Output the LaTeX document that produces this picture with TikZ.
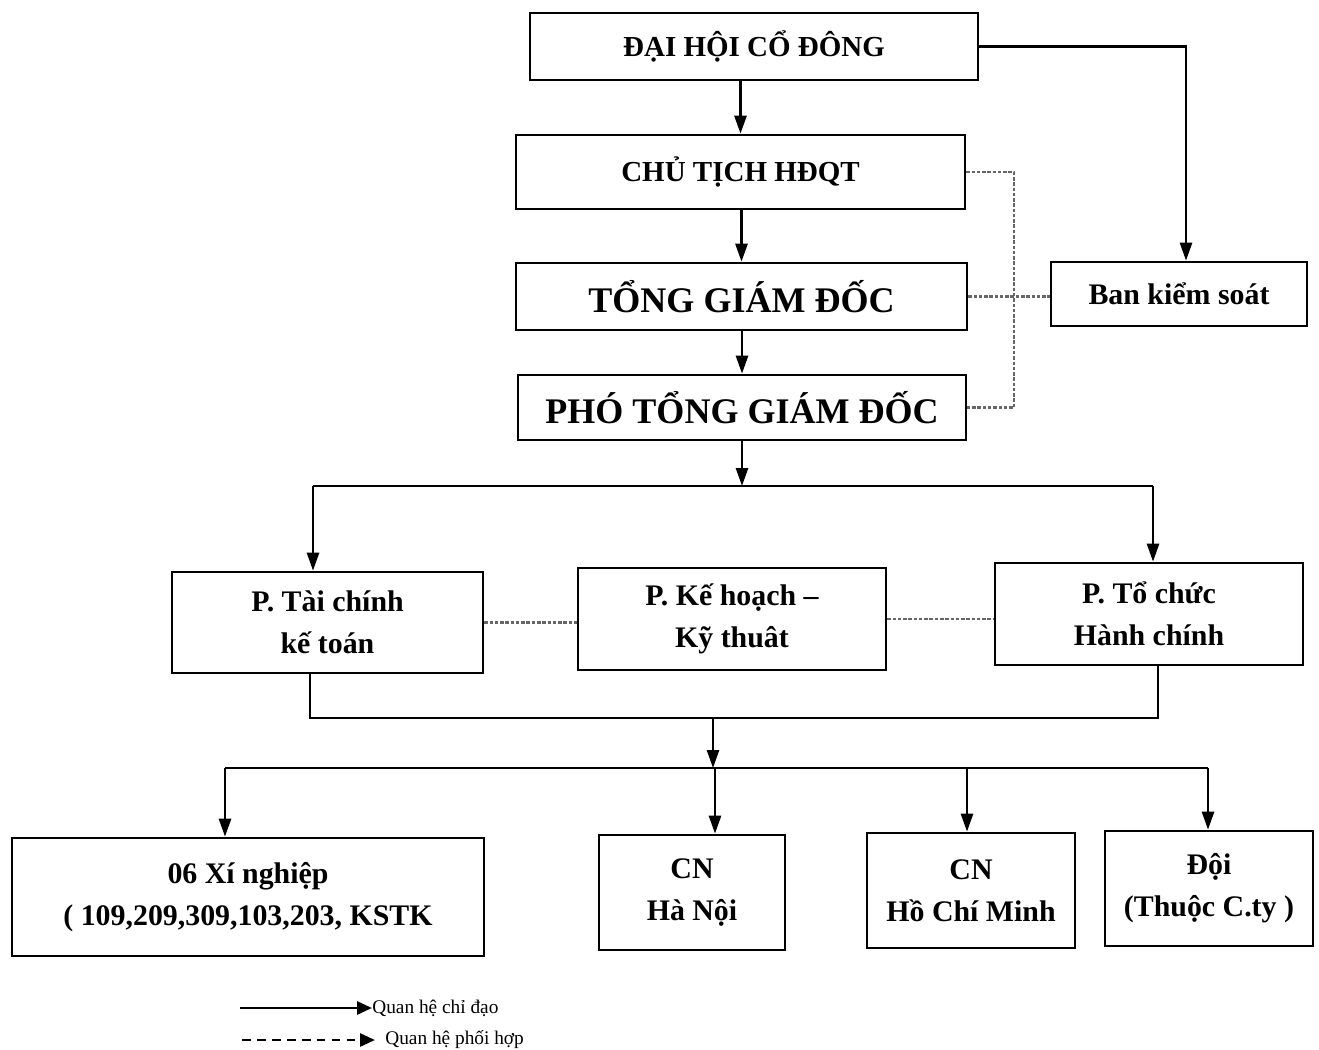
\documentclass[tikz,border=0pt]{standalone}
\usepackage{fontspec}
\setmainfont{Liberation Serif}
\usetikzlibrary{
  arrows.meta,
}
\tikzset{
  box/.style 2 args = {draw, rectangle, line width=1.5pt,
      inner sep=0pt, align=center,
      minimum width=#1*0.02cm, minimum height=#2*0.02cm},
  head/.style = {font=\fontsize{16.5}{22}\selectfont\bfseries},
  bighead/.style = {font=\fontsize{20.5}{26}\selectfont\bfseries},
  unit/.style = {font=\fontsize{17}{24}\selectfont\bfseries},
  link/.style = {line width=1.5pt},
  arr/.style = {link, -{Triangle[length=0.36cm, width=0.24cm]}},
  coop/.style = {line width=1.2pt, gray!80!black, dash pattern=on 2pt off 1pt},
  legend/.style = {font=\fontsize{11}{13}\selectfont, anchor=west, inner sep=0pt},
  legarr/.style = {line width=1.6pt, -{Triangle[length=0.3cm, width=0.26cm]}},
}

\begin{document}
\begin{tikzpicture}[x=0.02cm, y=-0.02cm]
  \useasboundingbox (0,0) rectangle (1319,1050);

  % board level
  \node[box={448}{67}, head] (dhcd) at (754,46.5) {ĐẠI HỘI CỔ ĐÔNG};
  \node[box={449}{74}, head] (ct) at (740.5,172) {CHỦ TỊCH HĐQT};
  \node[box={451}{67}, bighead] (tgd) at (741.5,296.5) {TỔNG GIÁM ĐỐC};
  \node[box={448}{65}, bighead] (ptgd) at (742,407.5) {PHÓ TỔNG GIÁM ĐỐC};
  \node[box={256}{64}, unit] (bks) at (1179,294) {Ban kiểm soát};

  % departments
  \node[box={311}{101}, unit] (ptc) at (327.5,622.5) {P. Tài chính\\kế toán};
  \node[box={308}{102}, unit] (pkh) at (732,619) {P. Kế hoạch --\\Kỹ thuât};
  \node[box={308}{102}, unit] (ptchc) at (1149,614) {P. Tổ chức\\Hành chính};

  % units
  \node[box={472}{118}, unit] (xn) at (248,897)
    {06 Xí nghiệp\\( 109,209,309,103,203, KSTK};
  \node[box={186}{115}, unit] (cnhn) at (692,892.5) {CN\\Hà Nội};
  \node[box={208}{115}, unit] (cnhcm) at (971,890.5) {CN\\Hồ Chí Minh};
  \node[box={208}{115}, unit] (doi) at (1209,888.5) {Đội\\(Thuộc C.ty )};

  \coordinate (b1) at (745,486);
  \coordinate (b2) at (713,718);
  \coordinate (b3) at (713,768);
  \coordinate (dr) at (1014,290);
  \coordinate (bk) at (1186,46);

  \draw[arr] (ct.north |- dhcd.south) -- (ct.north);
  \draw[arr] (tgd.north |- ct.south) -- (tgd.north);
  \draw[arr] (ptgd.north |- tgd.south) -- (ptgd.north);
  \draw[arr] (dhcd.east) -| (bk |- bks.north);

  \draw[coop] (ct.east) -| (dr) |- (ptgd.east);
  \draw[coop] (tgd.east) -- (tgd.east -| bks.west);

  \draw[arr] (ptgd.south) -- (ptgd.south |- b1);
  \draw[link] (313,486) -- (1153,486);
  \foreach \n/\x in {ptc/313, ptchc/1153} {
    \coordinate (t) at (\x,486);
    \draw[arr] (t) -- (t |- \n.north);
  }

  \draw[coop] (ptc.east) -- (ptc.east -| pkh.west);
  \draw[coop] (pkh.east) -- (pkh.east -| ptchc.west);

  \coordinate (lt) at (310,718);
  \coordinate (rt) at (1158,718);
  \draw[link] (lt |- ptc.south) -- (lt) -- (rt) -- (rt |- ptchc.south);
  \draw[arr] (b2) -- (b3);
  \draw[link] (225,768) -- (1208,768);
  \foreach \n/\x in {xn/225, cnhn/715, cnhcm/967, doi/1208} {
    \coordinate (t) at (\x,768);
    \draw[arr] (t) -- (t |- \n.north);
  }

  % legend
  \node[legend] (lg1) at (372,1008) {Quan hệ chỉ đạo};
  \node[legend] (lg2) at (385,1040) {Quan hệ phối hợp};
  \coordinate (l1) at (240,1008);
  \coordinate (l2) at (242,1040);
  \draw[legarr] (l1) -- (lg1.west);
  \draw[legarr, dash pattern=on 5pt off 3.5pt] (l2) -- ([xshift=-0.2cm]lg2.west);
\end{tikzpicture}
\end{document}
